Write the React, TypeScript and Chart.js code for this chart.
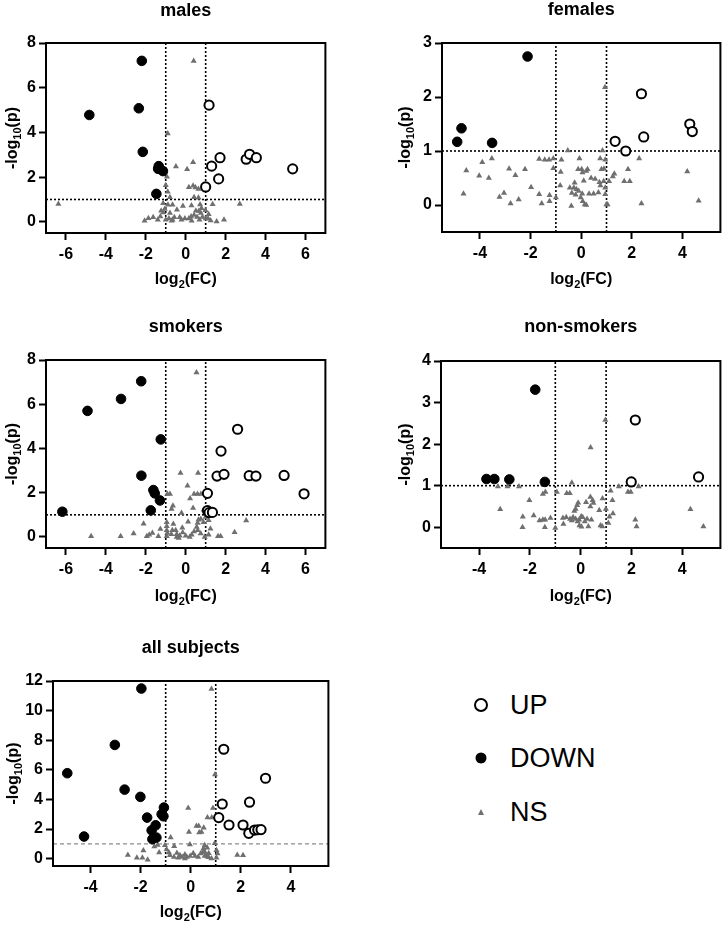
import React, { useEffect, useRef } from "react";
import { Chart, registerables } from "chart.js";
Chart.register(...registerables);

type Pt = [number, number];

// ---------- DATA ----------
const malesUp: Pt[] = [[1.17,5.22],[1.3,2.49],[1.72,2.87],[1.65,1.92],[1.0,1.56],[3.03,2.8],[3.2,3.02],[3.54,2.87],[5.36,2.37]];
const malesDown: Pt[] = [[-2.2,7.2],[-4.83,4.78],[-2.35,5.08],[-2.15,3.13],[-1.35,2.49],[-1.38,2.37],[-1.14,2.27],[-1.47,1.25]];
const malesNs: Pt[] = [[0.4,7.2],[-0.9,3.95],[-6.38,0.8],[2.71,0.8],[-0.49,2.47],[0.37,2.66],[0.07,2.35],[-0.94,2.02],[-1.0,1.64],[-0.9,1.35],[0.16,1.55],[0.37,1.61],[0.49,1.53],[0.64,1.47],[-0.79,1.1],[0.42,1.1],[0.64,1.08],[1.35,0.79],[-1.13,0.83],[-0.89,0.76],[-0.66,0.76],[-1.05,0.57],[-1.23,0.5],[-1.12,0.42],[-0.79,0.39],[-0.14,0.71],[0.29,0.73],[0.72,0.77],[0.79,0.61],[0.99,0.52],[1.15,0.34],[-0.44,0.54],[0.51,0.5],[0.66,0.48],[0.76,0.39],[0.42,0.31],[0.27,0.24],[0.16,0.15],[0.57,0.22],[0.84,0.22],[1.0,0.15],[1.25,0.06],[1.55,0.01],[1.92,0.09],[-2.06,0.05],[-1.87,0.16],[-1.63,0.21],[-1.4,0.09],[-1.27,0.24],[-1.0,0.09],[-0.84,0.15],[-0.66,0.09],[-0.57,0.21],[-0.21,0.09],[-0.04,0.15],[0.69,0.09],[1.12,0.15],[-0.3,0.2],[-0.7,0.05],[0.3,0.05]];

const femalesUp: Pt[] = [[2.38,2.06],[4.29,1.5],[4.39,1.36],[2.47,1.26],[1.34,1.18],[1.76,1.0]];
const femalesDown: Pt[] = [[-2.12,2.75],[-4.73,1.42],[-4.9,1.17],[-3.52,1.15]];
const femalesNs: Pt[] = [[0.94,2.18],[-4.54,0.64],[-4.65,0.21],[-3.91,0.79],[-4.03,0.54],[-3.65,0.5],[-3.53,0.86],[-2.85,0.67],[-2.6,0.55],[-2.22,0.66],[-3.23,0.15],[-3.05,0.22],[-2.79,0.03],[-2.47,0.1],[-1.98,0.33],[-1.66,0.2],[-1.56,0.03],[-1.25,0.18],[-1.25,0.07],[-1.0,0.14],[-1.66,0.85],[-1.44,0.84],[-1.27,0.84],[-1.1,0.86],[-0.53,1.01],[0.84,1.01],[-0.78,0.84],[-1.1,0.68],[-0.81,0.61],[-0.83,0.36],[-0.07,0.86],[-0.12,0.66],[0.02,0.66],[0.25,0.66],[0.05,0.6],[0.2,0.63],[0.39,0.5],[0.72,0.42],[0.89,0.44],[0.8,0.66],[0.9,0.67],[0.75,0.86],[0.95,0.84],[-0.26,0.41],[-0.29,0.32],[-0.45,0.32],[-0.19,0.29],[-0.1,0.26],[-0.22,0.19],[-0.37,0.22],[0.04,0.21],[0.31,0.21],[0.49,0.21],[0.68,0.23],[-0.02,0.14],[0.06,0.07],[0.14,0.01],[0.2,0.0],[-0.39,-0.02],[1.0,0.01],[0.95,0.2],[1.1,0.44],[1.25,0.53],[1.31,0.58],[1.85,0.66],[1.7,0.44],[1.92,0.44],[0.95,0.32],[0.76,0.36],[2.29,0.86],[2.38,0.03],[4.19,0.62],[4.64,0.08],[1.04,0.01],[0.1,0.45],[0.55,0.48]];

const smokersUp: Pt[] = [[2.6,4.87],[1.77,3.88],[1.57,2.75],[1.92,2.83],[3.18,2.77],[3.52,2.75],[4.93,2.78],[5.93,1.95],[1.09,1.97],[1.09,1.19],[1.17,1.1],[1.34,1.11]];
const smokersDown: Pt[] = [[-2.23,7.04],[-3.24,6.24],[-4.92,5.7],[-1.25,4.41],[-2.22,2.77],[-1.62,2.12],[-1.55,1.97],[-1.29,1.65],[-1.75,1.2],[-6.18,1.14]];
const smokersNs: Pt[] = [[0.54,7.43],[-0.26,2.89],[0.62,2.89],[0.09,2.31],[-0.92,1.94],[-0.79,1.94],[0.42,1.94],[0.59,1.94],[0.76,1.94],[0.22,1.74],[-0.64,1.41],[-0.71,1.26],[-0.21,1.08],[0.37,1.31],[0.9,1.23],[0.76,0.81],[0.64,0.78],[0.89,0.66],[0.6,0.63],[1.15,0.75],[1.24,0.37],[3.03,0.74],[2.45,0.21],[-2.11,0.6],[-2.61,0.15],[-3.26,0.03],[-4.74,0.03],[-1.95,0.03],[-1.83,0.1],[-1.67,0.18],[-1.37,0.03],[-1.27,0.36],[-0.95,0.66],[-0.95,0.48],[-0.95,0.3],[-0.92,0.18],[-0.95,0.03],[-0.62,0.59],[-0.67,0.3],[-0.5,0.3],[-0.72,0.12],[-0.45,0.12],[-0.3,0.05],[-0.15,0.2],[0.0,0.05],[-0.35,-0.05],[-0.17,0.41],[0.12,0.69],[0.42,0.25],[0.55,0.45],[0.6,0.3],[1.15,0.1],[0.95,0.0],[1.62,0.03],[1.75,0.03],[0.3,0.1],[0.75,0.15],[1.0,0.9],[-0.45,0.0],[0.2,0.0]];

const nonSmokersUp: Pt[] = [[2.15,2.58],[1.99,1.09],[4.64,1.21]];
const nonSmokersDown: Pt[] = [[-1.79,3.31],[-3.71,1.16],[-3.4,1.16],[-2.81,1.15],[-1.41,1.09]];
const nonSmokersNs: Pt[] = [[0.97,2.58],[0.39,1.92],[-3.26,0.98],[-2.88,0.98],[-2.43,0.98],[-3.17,0.43],[-2.02,0.65],[-2.28,0.25],[-2.29,0.0],[-1.85,0.28],[-1.62,0.16],[-1.49,0.18],[-1.4,0.18],[-1.19,0.22],[-1.41,0.0],[-1.0,-0.02],[-1.48,1.04],[-1.4,1.04],[-1.49,0.8],[-1.39,0.85],[-0.94,0.85],[-0.55,0.82],[-0.43,0.82],[-0.35,1.07],[-0.7,0.22],[-0.57,0.24],[-0.42,0.2],[-0.35,0.16],[-0.68,0.08],[-0.25,0.39],[-0.2,0.44],[-0.14,0.53],[-0.1,0.59],[-0.3,0.24],[-0.2,0.2],[-0.12,0.14],[-0.06,0.18],[0.02,0.26],[0.08,0.24],[0.16,0.14],[0.25,0.2],[-0.05,0.04],[0.03,0.01],[0.3,0.02],[0.78,0.04],[0.85,0.02],[0.21,0.6],[0.38,0.73],[0.47,0.65],[0.5,0.58],[0.38,0.5],[0.42,0.18],[0.73,0.41],[0.86,0.69],[0.99,0.44],[1.09,0.1],[1.13,0.25],[1.18,0.88],[1.25,0.65],[1.27,0.33],[1.5,0.98],[1.86,0.85],[1.97,0.85],[2.28,0.98],[2.15,0.18],[2.2,0.02],[4.32,0.43],[4.83,0.02]];

const allUp: Pt[] = [[1.32,7.39],[2.99,5.43],[1.26,3.69],[2.35,3.81],[1.12,2.77],[1.53,2.27],[2.09,2.27],[2.32,1.71],[2.55,1.93],[2.68,1.95],[2.81,1.96]];
const allDown: Pt[] = [[-1.97,11.49],[-3.03,7.68],[-4.93,5.77],[-2.64,4.66],[-2.01,4.17],[-1.07,3.45],[-1.16,3.0],[-1.09,2.86],[-1.74,2.77],[-1.4,2.25],[-1.56,1.91],[-1.37,1.42],[-1.53,1.31],[-4.26,1.49]];
const allNs: Pt[] = [[0.83,11.46],[0.97,5.68],[-0.1,3.42],[0.89,3.42],[0.67,2.77],[0.84,2.77],[0.23,2.2],[0.32,2.2],[0.52,2.09],[0.34,1.76],[-0.07,1.8],[0.43,1.8],[-0.8,1.42],[0.96,1.04],[-0.03,0.95],[0.56,0.9],[0.66,0.74],[0.56,0.45],[0.72,0.36],[-1.03,0.9],[-1.32,0.92],[-1.45,0.81],[-1.26,0.41],[-1.89,0.54],[-2.51,0.25],[-2.15,0.05],[-1.93,0.05],[-1.72,-0.07],[-0.66,0.83],[-0.96,0.61],[-0.87,0.41],[-0.83,0.23],[-0.67,0.11],[-0.55,0.38],[-0.43,0.23],[-0.34,0.11],[-0.23,0.27],[-0.15,0.11],[-0.02,0.18],[0.1,0.36],[0.17,0.18],[0.3,0.11],[0.4,0.34],[0.48,0.45],[0.56,0.18],[0.67,0.14],[0.72,0.09],[0.63,0.23],[0.51,0.68],[1.03,0.56],[1.07,0.34],[1.03,0.05],[1.86,0.25],[2.09,0.23],[0.83,0.0],[-0.23,0.0],[-0.5,0.05]];

const xTicksWide = [-6, -4, -2, 0, 2, 4, 6];
const xTicksNarrow = [-4, -2, 0, 2, 4];
const yTicks0to8 = [0, 2, 4, 6, 8];
const yTicks0to3 = [0, 1, 2, 3];
const yTicks0to4 = [0, 1, 2, 3, 4];
const yTicks0to12 = [0, 2, 4, 6, 8, 10, 12];
const foldThresholds = [-1, 1];
const pThreshold = 1;
const legendLabels = ["UP", "DOWN", "NS"];
// axis titles as [text, subscript, text]
const xAxisTitleParts = ["log", "2", "(FC)"];
const yAxisTitleParts = ["-log", "10", "(p)"];

// ---------- LAYOUT / STYLE ----------
const FONT = "'Liberation Sans', Arial, Helvetica, sans-serif";
const NS_COLOR = "#6f6f6f";
const AXIS_TITLE_SIZE = 16;
const SUB_SIZE = 11;

interface Spec {
  title: string; up: Pt[]; down: Pt[]; ns: Pt[];
  xMin: number; xMax: number; yMin: number; yMax: number;
  xTicks: number[]; yTicks: number[]; grayH: boolean;
  L: number; T: number; R: number; B: number; yW: number; titleY: number; xTitleY: number;
}

const panels: Spec[] = [
  { title: "males", up: malesUp, down: malesDown, ns: malesNs, xMin: -7, xMax: 7, yMin: -0.5, yMax: 8, xTicks: xTicksWide, yTicks: yTicks0to8, grayH: false, L: 46, T: 43, R: 329, B: 233, yW: 46, titleY: 11, xTitleY: 278 },
  { title: "females", up: femalesUp, down: femalesDown, ns: femalesNs, xMin: -5.5, xMax: 5.5, yMin: -0.5, yMax: 3, xTicks: xTicksNarrow, yTicks: yTicks0to3, grayH: false, L: 442, T: 43, R: 724, B: 232, yW: 49, titleY: 10, xTitleY: 278 },
  { title: "smokers", up: smokersUp, down: smokersDown, ns: smokersNs, xMin: -7, xMax: 7, yMin: -0.5, yMax: 8, xTicks: xTicksWide, yTicks: yTicks0to8, grayH: false, L: 46, T: 360, R: 329, B: 548, yW: 46, titleY: 327, xTitleY: 595 },
  { title: "non-smokers", up: nonSmokersUp, down: nonSmokersDown, ns: nonSmokersNs, xMin: -5.5, xMax: 5.5, yMin: -0.5, yMax: 4, xTicks: xTicksNarrow, yTicks: yTicks0to4, grayH: false, L: 441, T: 361, R: 724, B: 548, yW: 48, titleY: 327, xTitleY: 595 },
  { title: "all subjects", up: allUp, down: allDown, ns: allNs, xMin: -5.5, xMax: 5.5, yMin: -0.5, yMax: 12, xTicks: xTicksNarrow, yTicks: yTicks0to12, grayH: true, L: 53, T: 681, R: 332, B: 866, yW: 52, titleY: 648, xTitleY: 911 },
];

const framePlugin = {
  id: "frame",
  afterDraw(chart: any) {
    const { ctx, chartArea: a } = chart;
    ctx.save();
    ctx.strokeStyle = "#000";
    ctx.lineWidth = 2;
    ctx.strokeRect(a.left, a.top, a.right - a.left, a.bottom - a.top);
    ctx.restore();
  },
};

// draws "text + subscript + text" centred at (0,0) of the current transform
function drawSubTitle(ctx: CanvasRenderingContext2D, parts: string[]) {
  const main = `bold ${AXIS_TITLE_SIZE}px ${FONT}`;
  const sub = `bold ${SUB_SIZE}px ${FONT}`;
  ctx.font = main;
  const w0 = ctx.measureText(parts[0]).width;
  const w2 = ctx.measureText(parts[2]).width;
  ctx.font = sub;
  const w1 = ctx.measureText(parts[1]).width;
  const total = w0 + w1 + w2;
  let x = -total / 2;
  ctx.fillStyle = "#000";
  ctx.textAlign = "left";
  ctx.textBaseline = "alphabetic";
  const base = AXIS_TITLE_SIZE * 0.36;
  ctx.font = main;
  ctx.fillText(parts[0], x, base);
  x += w0;
  ctx.font = sub;
  ctx.fillText(parts[1], x, base + 4);
  x += w1;
  ctx.font = main;
  ctx.fillText(parts[2], x, base);
}

const toXY = (arr: Pt[]) => arr.map(([x, y]) => ({ x, y }));

function Panel({ s }: { s: Spec }) {
  const ref = useRef<HTMLCanvasElement>(null);
  const TITLE_SIZE = 18;
  const lh = TITLE_SIZE * 1.2;
  const canvasLeft = s.L - s.yW;
  const canvasTop = Math.round(s.titleY - 12);
  const padTop = s.titleY - canvasTop - lh / 2;
  const titleH = s.T - canvasTop;
  const padBottom = titleH - lh - padTop;
  const xH = s.xTitleY + 12 - s.B;
  const width = s.R - canvasLeft + 3;
  const height = s.B - canvasTop + xH;

  useEffect(() => {
    if (!ref.current) return;
    const tickFont = { family: FONT, size: 16, weight: "bold" as const };
    const axisTitles = {
      id: "axisTitles",
      afterDraw(chart: any) {
        const { ctx, chartArea: a } = chart;
        ctx.save();
        ctx.translate((a.left + a.right) / 2, s.xTitleY - canvasTop);
        drawSubTitle(ctx, xAxisTitleParts);
        ctx.restore();
        ctx.save();
        ctx.translate(11, (a.top + a.bottom) / 2);
        ctx.rotate(-Math.PI / 2);
        drawSubTitle(ctx, yAxisTitleParts);
        ctx.restore();
      },
    };
    const lineDs = (data: { x: number; y: number }[], gray: boolean) => ({
      type: "scatter" as const,
      data,
      showLine: true,
      pointRadius: 0,
      borderColor: gray ? "#8c8c8c" : "#000",
      borderWidth: gray ? 1.2 : 1.6,
      borderDash: gray ? [4, 3] : [2, 2],
      order: 10,
    });
    const datasets: any[] = [
      ...foldThresholds.map((fx) => lineDs([{ x: fx, y: s.yMin }, { x: fx, y: s.yMax }], false)),
      lineDs([{ x: s.xMin, y: pThreshold }, { x: s.xMax, y: pThreshold }], s.grayH),
      { label: "NS", data: toXY(s.ns), pointStyle: "triangle", pointRadius: 3.5, backgroundColor: NS_COLOR, borderWidth: 0, order: 3 },
      { label: "DOWN", data: toXY(s.down), pointStyle: "circle", pointRadius: 4.8, backgroundColor: "#000", borderColor: "#000", borderWidth: 1, order: 2 },
      { label: "UP", data: toXY(s.up), pointStyle: "circle", pointRadius: 4.6, backgroundColor: "#fff", borderColor: "#000", borderWidth: 2, order: 1 },
    ];
    const chart = new Chart(ref.current, {
      type: "scatter",
      data: { datasets },
      plugins: [framePlugin, axisTitles],
      options: {
        responsive: false,
        animation: false,
        devicePixelRatio: 1,
        layout: { padding: { left: 0, right: 3, top: 0, bottom: 0 } },
        plugins: {
          legend: { display: false },
          tooltip: { enabled: false },
          title: {
            display: true,
            text: s.title,
            fullSize: false,
            color: "#000",
            font: { family: FONT, size: TITLE_SIZE, weight: "bold" },
            padding: { top: padTop, bottom: padBottom },
          },
        },
        scales: {
          x: {
            type: "linear",
            min: s.xMin,
            max: s.xMax,
            afterBuildTicks: (sc: any) => { sc.ticks = s.xTicks.map((v) => ({ value: v })); },
            afterFit: (sc: any) => { sc.height = xH; },
            ticks: { font: tickFont, color: "#000", padding: 5, autoSkip: false, maxRotation: 0 },
            grid: { drawOnChartArea: false, drawTicks: true, tickLength: 7, tickWidth: 2, tickColor: "#000" },
            border: { display: true, color: "#000", width: 2 },
            title: { display: false },
          },
          y: {
            type: "linear",
            min: s.yMin,
            max: s.yMax,
            afterBuildTicks: (sc: any) => { sc.ticks = s.yTicks.map((v) => ({ value: v })); },
            afterFit: (sc: any) => { sc.width = s.yW; },
            ticks: { font: tickFont, color: "#000", padding: 3, autoSkip: false },
            grid: { drawOnChartArea: false, drawTicks: true, tickLength: 7, tickWidth: 2, tickColor: "#000" },
            border: { display: true, color: "#000", width: 2 },
            title: { display: false },
          },
        },
      } as any,
    });
    return () => chart.destroy();
  }, []);

  return (
    <canvas
      ref={ref}
      width={width}
      height={height}
      style={{ position: "absolute", left: canvasLeft, top: canvasTop, width, height }}
    />
  );
}

function LegendBlock() {
  const rows = [705, 758, 812];
  const symX = 481;
  const sym = (i: number) => {
    if (i === 0)
      return <div style={{ width: 10, height: 10, borderRadius: "50%", border: "2px solid #000", background: "#fff" }} />;
    if (i === 1)
      return <div style={{ width: 11, height: 11, borderRadius: "50%", background: "#000" }} />;
    return <div style={{ width: 0, height: 0, borderLeft: "3.5px solid transparent", borderRight: "3.5px solid transparent", borderBottom: "6px solid " + NS_COLOR }} />;
  };
  return (
    <>
      {legendLabels.map((lab, i) => (
        <React.Fragment key={lab}>
          <div style={{ position: "absolute", left: symX, top: rows[i], transform: "translate(-50%,-50%)" }}>{sym(i)}</div>
          <div style={{ position: "absolute", left: 510, top: rows[i], transform: "translateY(-50%)", fontFamily: FONT, fontSize: 27, lineHeight: "32px", color: "#000" }}>{lab}</div>
        </React.Fragment>
      ))}
    </>
  );
}

export default function App() {
  return (
    <div style={{ position: "absolute", left: 0, top: 0, width: 728, height: 925, background: "#fff", overflow: "hidden" }}>
      {panels.map((p) => (
        <Panel key={p.title} s={p} />
      ))}
      <LegendBlock />
    </div>
  );
}
